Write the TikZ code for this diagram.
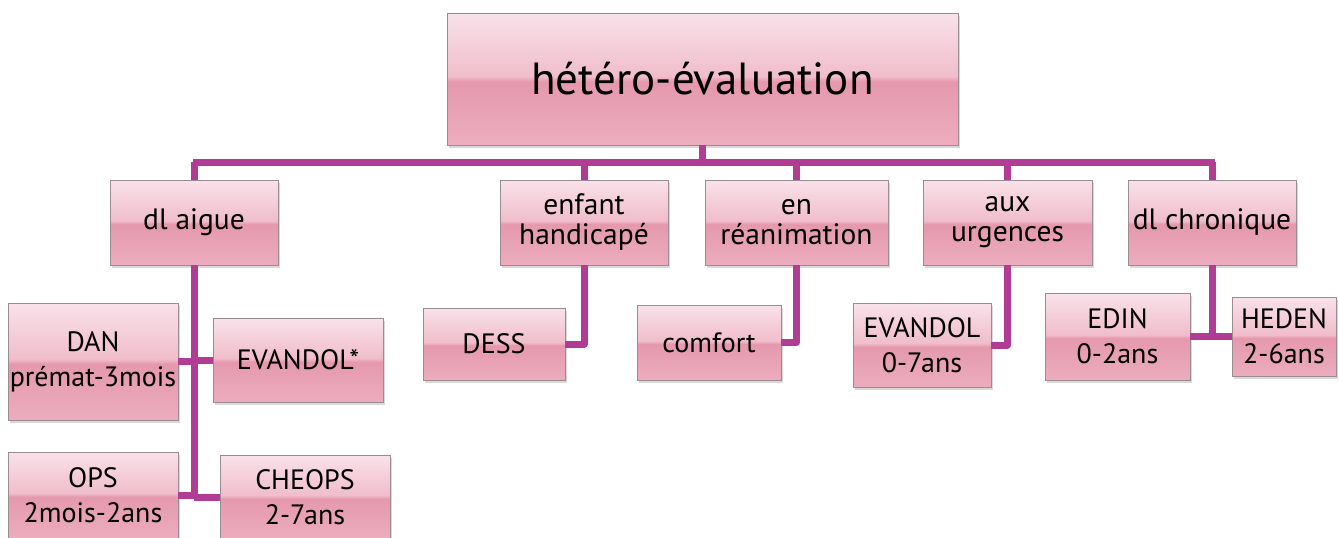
\documentclass[tikz,border=0pt]{standalone}
\usepackage{fontspec}
\setmainfont{PT Sans}
\usetikzlibrary{shadows}
\definecolor{linec}{HTML}{B03C96}
\definecolor{pkA}{HTML}{F9E2EA}
\definecolor{pkB}{HTML}{F0BDCB}
\definecolor{pkC}{HTML}{E598AE}
\definecolor{pkD}{HTML}{ECADBE}
\definecolor{bordc}{HTML}{9A8C92}
\pgfdeclareverticalshading{gloss}{100bp}{color(0bp)=(pkD); color(25bp)=(pkD); color(49bp)=(pkC); color(51bp)=(pkB); color(75bp)=(pkA); color(100bp)=(pkA)}
\tikzset{
  box/.style={draw=bordc, line width=0.8pt, shading=gloss, inner sep=0pt, align=center,
    drop shadow={shadow xshift=2pt, shadow yshift=-3pt, opacity=0.25, fill=black!60}},
  topbox/.style={box, font=\fontsize{45}{50}\selectfont},
  midbox/.style={box, font=\fontsize{29.5}{30}\selectfont},
  lowbox/.style={box, font=\fontsize{28}{35}\selectfont},
  conn/.style={draw=linec, line width=7pt, line join=round}
}
\begin{document}
\begin{tikzpicture}[x=1pt,y=-1pt]
\useasboundingbox (0,0) rectangle (1339,538);
% connectors
\coordinate (busL) at (193,162);
\coordinate (busR) at (1215,162);
\coordinate (ta) at (194,497);
% nodes
\node[topbox, minimum width=511pt, minimum height=132pt] (top) at (702.5,79) {hétéro-évaluation};
\node[midbox, minimum width=168pt, minimum height=85pt] (aig) at (194,222.5) {dl aigue};
\node[midbox, minimum width=168pt, minimum height=85pt] (enf) at (584,222.5) {enfant\\handicapé};
\node[midbox, minimum width=183pt, minimum height=85pt] (rea) at (796.5,222.5) {en\\réanimation};
\node[midbox, minimum width=169pt, minimum height=85pt] (urg) at (1007.5,222.5) {aux\\urgences};
\node[midbox, minimum width=168pt, minimum height=85pt] (chr) at (1212,222.5) {dl chronique};
\node[lowbox, minimum width=170pt, minimum height=117pt] (dan) at (93,361.5) {DAN\\prémat-3mois};
\node[lowbox, minimum width=170pt, minimum height=84pt] (eva) at (298,360) {EVANDOL*};
\node[lowbox, minimum width=170pt, minimum height=86pt] (ops) at (93,495) {OPS\\2mois-2ans};
\node[lowbox, minimum width=170pt, minimum height=84pt] (che) at (305,497) {CHEOPS\\2-7ans};
\node[lowbox, minimum width=142pt, minimum height=72pt] (dess) at (494,344) {DESS};
\node[lowbox, minimum width=144pt, minimum height=75pt] (comf) at (709,342.5) {comfort};
\node[lowbox, minimum width=138pt, minimum height=84pt] (eva2) at (922,345) {EVANDOL\\0-7ans};
\node[lowbox, minimum width=145pt, minimum height=87pt] (edin) at (1117.5,336.5) {EDIN\\0-2ans};
\node[lowbox, minimum width=104pt, minimum height=79pt] (hed) at (1284,336.5) {HEDEN\\2-6ans};
% lines
\draw[conn] (busL) -- (busR);
\draw[conn] (top.south) -- (top.south |- busL);
\draw[conn] (aig.north) -- (aig.north |- busL);
\draw[conn] (enf.north) -- (enf.north |- busL);
\draw[conn] (rea.north) -- (rea.north |- busL);
\draw[conn] (urg.north) -- (urg.north |- busL);
\draw[conn] (chr.north) -- (chr.north |- busL);
\draw[conn] (aig.south) -- (ta);
\draw[conn] (dan.east) -- (dan.east -| ta);
\draw[conn] (eva.west) -- (eva.west -| ta);
\draw[conn] (ops.east) -- (ops.east -| ta);
\draw[conn] (che.west) -- (che.west -| ta);
\draw[conn] (enf.south) |- (dess.east);
\draw[conn] (rea.south) |- (comf.east);
\draw[conn] (urg.south) |- (eva2.east);
\draw[conn] (chr.south) |- (edin.east);
\draw[conn] (chr.south |- edin.east) -- (hed.west);
\end{tikzpicture}
\end{document}
